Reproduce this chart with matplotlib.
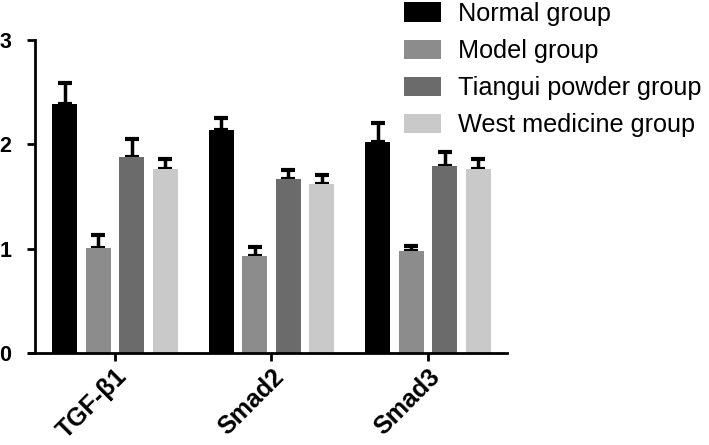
import matplotlib
matplotlib.use("Agg")
import matplotlib.pyplot as plt
import numpy as np

plt.rcParams['font.family'] = ['Liberation Sans', 'DejaVu Sans']

categories = ["TGF-β1", "Smad2", "Smad3"]
groups = ["Normal group", "Model group", "Tiangui powder group", "West medicine group"]
means = {
    "Normal group": [2.39, 2.14, 2.02],
    "Model group": [1.01, 0.93, 0.98],
    "Tiangui powder group": [1.88, 1.67, 1.79],
    "West medicine group": [1.76, 1.62, 1.76],
}
errors = {
    "Normal group": [0.20, 0.11, 0.18],
    "Model group": [0.12, 0.09, 0.05],
    "Tiangui powder group": [0.17, 0.08, 0.14],
    "West medicine group": [0.10, 0.09, 0.10],
}
colors = ["#000000", "#8c8c8c", "#6b6b6b", "#c9c9c9"]

W, H = 709, 445
fig = plt.figure(figsize=(W / 100, H / 100), dpi=100)
left_px, right_px, top_px, bot_px = 29, 507, 40, 353
ax = fig.add_axes([left_px / W, 1 - bot_px / H, (right_px - left_px) / W, (bot_px - top_px) / H])

x = np.arange(len(categories))
pitch = 0.214
width = 0.16
handles = []
for i, (g, c) in enumerate(zip(groups, colors)):
    xs = x + (i - 1.5) * pitch
    m = np.array(means[g])
    e = np.array(errors[g])
    b = ax.bar(xs, m, width=width, color=c, zorder=2)
    ax.errorbar(xs, m, yerr=[np.zeros_like(e), e], fmt='none', ecolor='black',
                elinewidth=2.5, capsize=5, capthick=3, zorder=1)
    handles.append(b)

ax.set_xlim(-0.549, 2.505)
ax.set_ylim(0, 3)
ax.spines['top'].set_visible(False)
ax.spines['right'].set_visible(False)
ax.spines['left'].set_position(('data', -0.511))
for s in ['left', 'bottom']:
    ax.spines[s].set_linewidth(2)
ax.set_yticks([0, 1, 2, 3])
ax.set_yticklabels(["0", "1", "2", "3"], fontsize=15.5, fontweight='bold')
ax.set_xticks(x)
ax.set_xticklabels(categories, fontsize=18, fontweight='bold', rotation=45,
                   ha='right', va='top', rotation_mode='anchor')
ax.tick_params(axis='both', direction='out', width=2, length=6)
ax.tick_params(axis='y', pad=11)
ax.tick_params(axis='x', pad=2)

fig.legend(handles, groups, loc='upper left', bbox_to_anchor=(404 / W, 1 - 2 / H),
           frameon=False, fontsize=18.2, handlelength=1.45, handleheight=0.82,
           labelspacing=0.52, handletextpad=0.7, borderaxespad=0.0, borderpad=0.0)

fig.savefig("out.png", dpi=100)
